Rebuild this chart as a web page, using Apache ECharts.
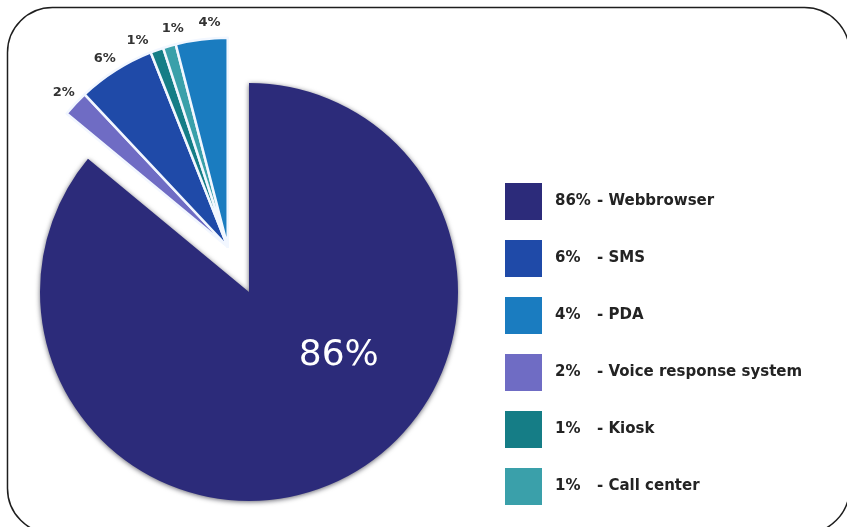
<!DOCTYPE html>
<html>
<head>
<meta charset="utf-8">
<script src="https://cdn.jsdelivr.net/npm/echarts@6/dist/echarts.min.js"></script>
<style>
  html, body { margin: 0; padding: 0; background: #fff; }
  #chart { width: 847px; height: 527px; }
</style>
</head>
<body>
<div id="chart"></div>
<script>
// Access channels, clockwise from 12 o'clock
const channels = ['Webbrowser', 'Voice response system', 'SMS', 'Kiosk', 'Call center', 'PDA'];
const shares = [86, 2, 6, 1, 1, 4];
const sliceColors = ['#2c2b7a', '#6f6cc4', '#1f4aa8', '#157d86', '#3aa0aa', '#1a7cc0'];
// Order of the entries in the key
const legendOrder = ['Webbrowser', 'SMS', 'PDA', 'Voice response system', 'Kiosk', 'Call center'];

const CENTER = [249, 292];
const RADIUS = 209;
const PULL = 50;            // distance the minor channels are pulled out as one group
const LABEL_R = RADIUS + 16;
const LABEL_GAP = 9.5;      // minimum angular spacing of the minor labels, degrees

const total = shares.reduce((a, b) => a + b, 0);
const startDeg = [];
const midDeg = [];
let acc = 0;
shares.forEach(v => {
  const span = v / total * 360;
  startDeg.push(acc);
  midDeg.push(acc + span / 2);
  acc += span;
});
const rad = d => d * Math.PI / 180;
// the minor channels sit between the end of the main slice and 12 o'clock
const groupMid = (startDeg[1] + 360) / 2;
const pulledCenter = [
  CENTER[0] + PULL * Math.sin(rad(groupMid)),
  CENTER[1] - PULL * Math.cos(rad(groupMid))
];

// spread the minor labels apart along the rim so neighbours do not collide
const labelDeg = midDeg.slice();
for (let pass = 0; pass < 60; pass++) {
  for (let i = 1; i < labelDeg.length - 1; i++) {
    const gap = labelDeg[i + 1] - labelDeg[i];
    if (gap < LABEL_GAP) {
      const push = (LABEL_GAP - gap) / 2;
      labelDeg[i] -= push;
      labelDeg[i + 1] += push;
    }
  }
}

const hidden = { color: 'rgba(0,0,0,0)', borderWidth: 0 };

const mainData = channels.map((name, i) => ({
  name,
  value: shares[i],
  itemStyle: i === 0
    ? { color: sliceColors[i], shadowBlur: 5, shadowColor: 'rgba(0,0,20,0.6)', shadowOffsetY: 1 }
    : hidden,
  label: { show: i === 0 }
}));

const minorData = channels.map((name, i) => ({
  name,
  value: shares[i],
  itemStyle: i === 0
    ? hidden
    : { color: sliceColors[i], borderColor: '#f2f7ff', borderWidth: 2.5 },
  label: { show: i !== 0 }
}));

const chart = echarts.init(document.getElementById('chart'), null, { renderer: 'canvas' });

chart.setOption({
  animation: false,
  backgroundColor: '#ffffff',
  graphic: [{
    type: 'rect',
    silent: true,
    z: -10,
    shape: { x: 7.5, y: 7.5, width: 842, height: 526, r: 45 },
    style: { fill: 'none', stroke: '#1e1e1e', lineWidth: 1.5 }
  }],
  legend: {
    orient: 'vertical',
    left: 505,
    top: 183,
    padding: 0,
    icon: 'rect',
    itemWidth: 37,
    itemHeight: 37,
    itemGap: 20,
    selectedMode: false,
    data: legendOrder.map(n => ({
      name: n,
      itemStyle: { color: sliceColors[channels.indexOf(n)], borderWidth: 0 }
    })),
    formatter: n => `{p|${shares[channels.indexOf(n)]}%}{d|- ${n}}`,
    textStyle: {
      rich: {
        p: { width: 42, padding: [0, 0, 0, 8], fontFamily: 'DejaVu Sans', fontWeight: 'bold', fontSize: 15, color: '#232323' },
        d: { fontFamily: 'DejaVu Sans', fontWeight: 'bold', fontSize: 15, color: '#232323' }
      }
    }
  },
  series: [
    {
      name: 'main',
      type: 'pie',
      center: CENTER,
      radius: RADIUS,
      startAngle: 90,
      clockwise: true,
      avoidLabelOverlap: false,
      emphasis: { disabled: true },
      label: {
        position: 'inside',
        formatter: p => p.value + '%',
        fontFamily: 'DejaVu Sans',
        fontSize: 36,
        color: '#ffffff'
      },
      labelLine: { show: false },
      labelLayout: p => (p.dataIndex === 0 ? { dx: 44, dy: -34 } : {}),
      data: mainData
    },
    {
      name: 'minor',
      type: 'pie',
      center: pulledCenter,
      radius: RADIUS,
      startAngle: 90,
      clockwise: true,
      avoidLabelOverlap: false,
      emphasis: { disabled: true },
      label: {
        position: 'outside',
        formatter: p => p.value + '%',
        fontFamily: 'DejaVu Sans',
        fontWeight: 'bold',
        fontSize: 13,
        color: '#333333'
      },
      labelLine: { show: false },
      labelLayout: p => {
        const a = rad(labelDeg[p.dataIndex]);
        return {
          x: pulledCenter[0] + LABEL_R * Math.sin(a),
          y: pulledCenter[1] - LABEL_R * Math.cos(a),
          align: 'center',
          verticalAlign: 'middle'
        };
      },
      data: minorData
    }
  ]
});
</script>
</body>
</html>
